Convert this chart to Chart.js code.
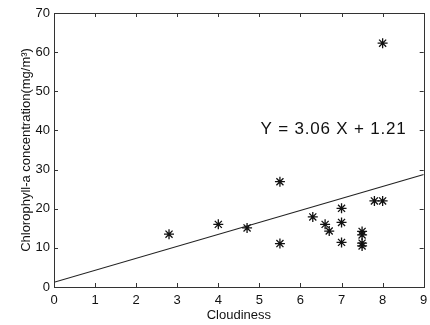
<!DOCTYPE html>
<html>
<head>
<meta charset="utf-8">
<script src="https://cdn.jsdelivr.net/npm/chart.js@4.4.1/dist/chart.umd.min.js"></script>
<style>
    html, body { margin: 0; padding: 0; background: #fff; }
    #wrap { position: relative; width: 430px; height: 325px; }
</style>
</head>
<body>
<div id="wrap"><canvas id="chart"></canvas></div>
<script>
// ===== Chlorophyll-a vs cloudiness scatter + linear fit =====
const cloudiness  = [2.8, 4.0, 4.7, 5.5, 5.5, 6.3, 6.6, 6.7, 7.0, 7.0, 7.0, 7.5, 7.5, 7.5, 7.5, 7.8, 8.0, 8.0];
const chlorophyll = [13.5, 16.0, 15.1, 26.9, 11.1, 17.9, 16.0, 14.3, 20.1, 16.5, 11.4, 14.2, 13.3, 11.2, 10.5, 22.0, 22.0, 62.3];

// regression line end points
const fitX = [0, 9];
const fitY = [1.21, 28.75];

const xTicks = [0, 1, 2, 3, 4, 5, 6, 7, 8, 9];
const yTicks = [0, 10, 20, 30, 40, 50, 60, 70];

const equationText = 'Y = 3.06 X + 1.21';

const FONT = '"Liberation Sans", Arial, Helvetica, sans-serif';
const INK = '#111';

// MATLAB style box with inward ticks on all four sides, plus the equation label
const matlabBox = {
    id: 'matlabBox',
    afterDatasetsDraw(chart) {
        const { ctx, chartArea: a, scales: { x, y } } = chart;
        const len = 4;
        ctx.save();
        ctx.strokeStyle = '#333';
        ctx.lineWidth = 1;
        ctx.strokeRect(Math.round(a.left) + .5, Math.round(a.top) + .5,
            Math.round(a.right - a.left), Math.round(a.bottom - a.top));
        ctx.beginPath();
        xTicks.forEach(v => {
            const px = Math.round(x.getPixelForValue(v)) + .5;
            ctx.moveTo(px, a.bottom); ctx.lineTo(px, a.bottom - len);
            ctx.moveTo(px, a.top); ctx.lineTo(px, a.top + len);
        });
        yTicks.forEach(v => {
            const py = Math.round(y.getPixelForValue(v)) + .5;
            ctx.moveTo(a.left, py); ctx.lineTo(a.left + len, py);
            ctx.moveTo(a.right, py); ctx.lineTo(a.right - len, py);
        });
        ctx.stroke();

        ctx.fillStyle = INK;
        ctx.font = `17px ${FONT}`;
        ctx.letterSpacing = '0.8px';
        ctx.textBaseline = 'middle';
        ctx.textAlign = 'left';
        ctx.fillText(equationText, x.getPixelForValue(5.03), y.getPixelForValue(40.4));
        ctx.restore();
    }
};

new Chart(document.getElementById('chart'), {
    type: 'scatter',
    data: {
        datasets: [
            {
                label: 'Observed',
                data: cloudiness.map((v, i) => ({ x: v, y: chlorophyll[i] })),
                pointStyle: 'star',
                pointRadius: 5,
                borderColor: INK,
                backgroundColor: INK,
                borderWidth: 1.3
            },
            {
                label: 'Fit',
                type: 'line',
                data: fitX.map((v, i) => ({ x: v, y: fitY[i] })),
                borderColor: '#222',
                borderWidth: 1.2,
                pointRadius: 0,
                fill: false,
                tension: 0
            }
        ]
    },
    options: {
        responsive: true,
        maintainAspectRatio: false,
        animation: false,
        events: [],
        layout: { padding: { left: 0, right: 2, top: 13, bottom: 0 } },
        plugins: { legend: { display: false }, tooltip: { enabled: false } },
        scales: {
            x: {
                type: 'linear', min: 0, max: 9,
                afterBuildTicks: s => { s.ticks = xTicks.map(v => ({ value: v })); },
                afterFit: s => { s.height = 38; s.paddingLeft = 0; s.paddingRight = 0; },
                grid: { display: false, drawTicks: false },
                border: { display: false },
                ticks: { color: INK, font: { family: FONT, size: 13 }, padding: 6 },
                title: { display: true, text: 'Cloudiness', color: INK,
                    font: { family: FONT, size: 13 }, padding: { top: 0, bottom: 2 } }
            },
            y: {
                type: 'linear', min: 0, max: 70,
                afterBuildTicks: s => { s.ticks = yTicks.map(v => ({ value: v })); },
                afterFit: s => { s.width = 54; s.paddingTop = 0; s.paddingBottom = 0; },
                grid: { display: false, drawTicks: false },
                border: { display: false },
                ticks: { color: INK, font: { family: FONT, size: 13 }, padding: 4 },
                title: { display: true, text: 'Chlorophyll-a concentration(mg/m³)', color: INK,
                    font: { family: FONT, size: 13 }, padding: { top: 19, bottom: 0 } }
            }
        }
    },
    plugins: [matlabBox]
});
</script>
</body>
</html>
